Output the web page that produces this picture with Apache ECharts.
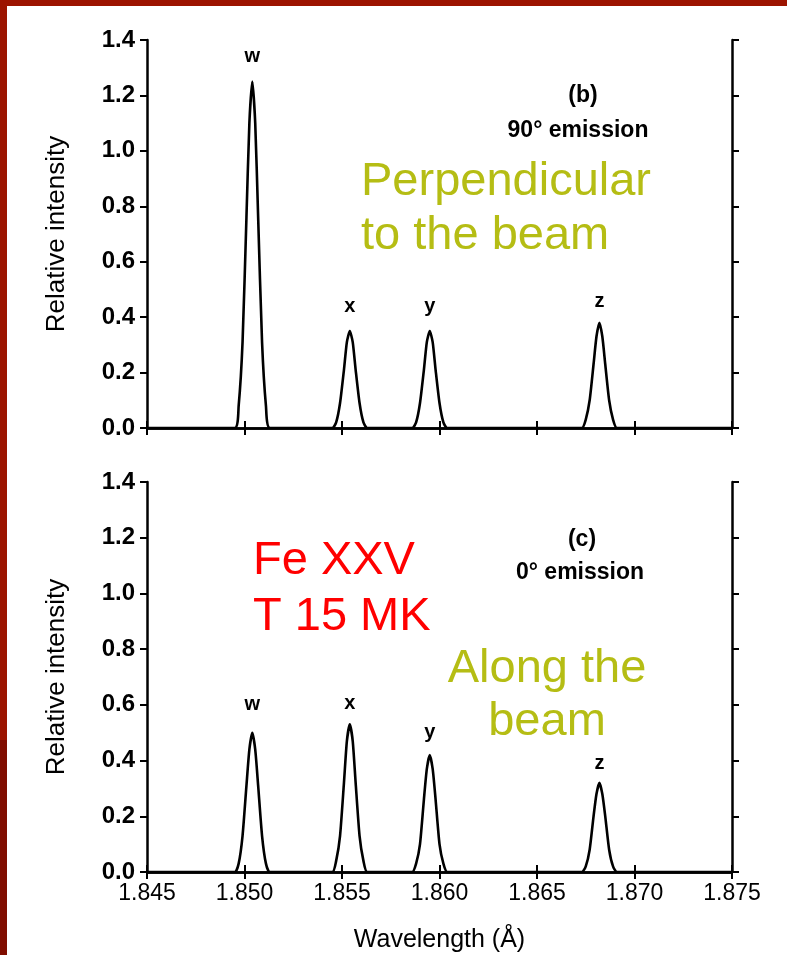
<!doctype html>
<html>
<head>
    <meta charset="utf-8">
    <title>Fe XXV w x y z lines</title>
    <script src="https://cdn.jsdelivr.net/npm/echarts@6/dist/echarts.min.js"></script>
    <style>
        html, body { margin: 0; padding: 0; background: #fff; }
        #chart { width: 787px; height: 955px; }
    </style>
</head>
<body>
<div id="chart"></div>
<script type="text/javascript">

    // wavelength samples (Angstrom), around the w, x, y, z lines
    var wavelength = [
        1.845,
        1.8495, 1.8497, 1.8499, 1.8501, 1.85025, 1.8504, 1.85055, 1.8507, 1.8509, 1.8511, 1.8513,
        1.8545, 1.8547, 1.8549, 1.8551, 1.85525, 1.8554, 1.85555, 1.8557, 1.8559, 1.8561, 1.8563,
        1.8586, 1.8588, 1.8590, 1.8592, 1.85935, 1.8595, 1.85965, 1.8598, 1.8600, 1.8602, 1.8604,
        1.8673, 1.8675, 1.8677, 1.8679, 1.86805, 1.8682, 1.86835, 1.8685, 1.8687, 1.8689, 1.8691,
        1.875
    ];

    // (b) 90 degree emission
    var intensity90 = [
        0,
        0, 0.08, 0.31, 0.76, 1.10, 1.25, 1.10, 0.76, 0.31, 0.08, 0,
        0, 0.02, 0.09, 0.21, 0.31, 0.35, 0.31, 0.21, 0.09, 0.02, 0,
        0, 0.02, 0.09, 0.21, 0.31, 0.35, 0.31, 0.21, 0.09, 0.02, 0,
        0, 0.03, 0.10, 0.23, 0.33, 0.38, 0.33, 0.23, 0.10, 0.03, 0,
        0
    ];

    // (c) 0 degree emission
    var intensity0 = [
        0,
        0, 0.03, 0.13, 0.31, 0.44, 0.50, 0.44, 0.31, 0.13, 0.03, 0,
        0, 0.04, 0.13, 0.32, 0.47, 0.53, 0.47, 0.32, 0.13, 0.04, 0,
        0, 0.03, 0.10, 0.26, 0.37, 0.42, 0.37, 0.26, 0.10, 0.03, 0,
        0, 0.02, 0.08, 0.20, 0.28, 0.32, 0.28, 0.20, 0.08, 0.02, 0,
        0
    ];

    // line names and where their letters sit
    var lineNames = ['w', 'x', 'y', 'z'];
    var lineCentres = [1.8504, 1.8554, 1.8595, 1.8682];
    var labelY90 = [1.34, 0.44, 0.44, 0.455];
    var labelY0 = [0.60, 0.605, 0.50, 0.39];

    var xTicks = ['1.845', '1.850', '1.855', '1.860', '1.865', '1.870', '1.875'];

    function pairs(xs, ys) {
        var out = [];
        for (var i = 0; i < xs.length; i++) out.push([xs[i], ys[i]]);
        return out;
    }
    function labelPoints(ys) {
        var out = [];
        for (var i = 0; i < lineNames.length; i++) {
            out.push({ name: lineNames[i], value: [lineCentres[i], ys[i]] });
        }
        return out;
    }

    var black = '#000';
    var tickFont = 'Liberation Sans, Arial, sans-serif';

    function xAxisFor(grid, pos, labels) {
        return {
            type: 'value', gridIndex: grid, position: pos,
            min: 1.845, max: 1.875, interval: 0.005,
            axisLine: { show: true, lineStyle: { color: black, width: 2.5 } },
            axisTick: { show: true, length: 7, lineStyle: { color: black, width: 2 } },
            axisLabel: {
                show: labels, color: black, fontSize: 23, fontFamily: tickFont, margin: 10,
                formatter: function (v) { return xTicks[Math.round((v - 1.845) / 0.005)]; }
            },
            splitLine: { show: false },
            name: labels ? 'Wavelength (Å)' : '',
            nameLocation: 'middle', nameGap: 56,
            nameTextStyle: { color: black, fontSize: 25, fontFamily: tickFont }
        };
    }
    function yAxisFor(grid, pos, labels) {
        return {
            type: 'value', gridIndex: grid, position: pos,
            min: 0, max: 1.4, interval: 0.2,
            axisLine: { show: true, lineStyle: { color: black, width: 2.5 } },
            axisTick: { show: true, length: 7, lineStyle: { color: black, width: 2 } },
            axisLabel: {
                show: labels, color: black, fontSize: 24, fontWeight: 'bold', fontFamily: tickFont, margin: 12,
                formatter: function (v) { return v.toFixed(1); }
            },
            splitLine: { show: false },
            name: labels ? 'Relative intensity' : '',
            nameLocation: 'middle', nameGap: 77, nameRotate: 90,
            nameTextStyle: { color: black, fontSize: 26, fontFamily: tickFont }
        };
    }

    function spectrum(idx, ys) {
        return {
            type: 'line', xAxisIndex: idx * 2, yAxisIndex: idx * 2,
            data: pairs(wavelength, ys), showSymbol: false, smooth: 0.2,
            lineStyle: { color: black, width: 2.6 }, silent: true
        };
    }
    function letters(idx, ys) {
        return {
            type: 'scatter', xAxisIndex: idx * 2, yAxisIndex: idx * 2,
            data: labelPoints(ys), symbolSize: 0, silent: true,
            itemStyle: { opacity: 1, color: black },
            label: {
                show: true, position: 'inside', formatter: '{b}',
                color: black, fontSize: 20, fontWeight: 'bold', fontFamily: tickFont
            }
        };
    }

    function txt(x, y, s, font, color, align) {
        return {
            type: 'text', x: x, y: y, silent: true,
            style: { text: s, font: font, fill: color, textAlign: align || 'left', textVerticalAlign: 'middle' }
        };
    }

    var olive = '#b5bd14';
    var red = '#ff0000';
    var big = '47px Liberation Sans, Arial, sans-serif';
    var small = 'bold 23px Liberation Sans, Arial, sans-serif';

    var myChart = echarts.init(document.getElementById('chart'), null, { renderer: 'canvas' });
    var option = {
        animation: false,
        backgroundColor: '#ffffff',
        grid: [
            { left: 147, right: 55, top: 40, height: 388 },
            { left: 147, right: 55, top: 482, height: 390 }
        ],
        xAxis: [
            xAxisFor(0, 'bottom', false), xAxisFor(0, 'top', false),
            xAxisFor(1, 'bottom', true), xAxisFor(1, 'top', false)
        ],
        yAxis: [
            yAxisFor(0, 'left', true), yAxisFor(0, 'right', false),
            yAxisFor(1, 'left', true), yAxisFor(1, 'right', false)
        ],
        series: [
            spectrum(0, intensity90), letters(0, labelY90),
            spectrum(1, intensity0), letters(1, labelY0)
        ],
        graphic: [
            // red slide frame
            { type: 'rect', shape: { x: 0, y: 0, width: 787, height: 6 }, style: { fill: '#9c1400' }, silent: true },
            { type: 'rect', shape: { x: 0, y: 0, width: 7, height: 740 }, style: { fill: '#9c1400' }, silent: true },
            { type: 'rect', shape: { x: 0, y: 740, width: 7, height: 215 }, style: { fill: '#800d00' }, silent: true },

            txt(583, 96, '(b)', small, black, 'center'),
            txt(578, 131, '90° emission', small, black, 'center'),
            txt(361, 182, 'Perpendicular', big, olive),
            txt(361, 236, 'to the beam', big, olive),

            txt(582, 540, '(c)', small, black, 'center'),
            txt(580, 573, '0° emission', small, black, 'center'),
            txt(253, 561, 'Fe XXV', big, red),
            txt(253, 617, 'T 15 MK', big, red),
            txt(547, 669, 'Along the', big, olive, 'center'),
            txt(547, 722, 'beam', big, olive, 'center')
        ]
    };
    myChart.setOption(option);

</script>
</body>
</html>
